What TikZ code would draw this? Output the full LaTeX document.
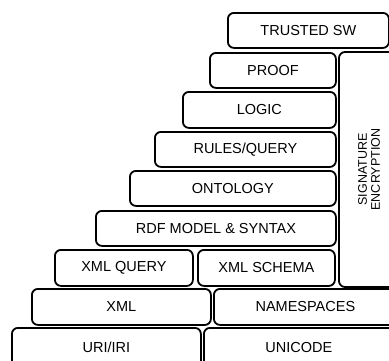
\documentclass[tikz,border=0pt]{standalone}
\usepackage{fontspec}
\setmainfont{Liberation Sans}
\usetikzlibrary{positioning}
\tikzset
{
    layer/.style = {draw=black, rounded corners=6pt, line width=1.8pt, anchor=north west, inner sep=0pt, minimum height=35pt, font=\fontsize{14.5}{16}\selectfont}
}

\begin{document}
\begin{tikzpicture}[x=1pt,y=-1pt]
\useasboundingbox (0,0) rectangle (389,360);
\clip (0,0) rectangle (389,360);
% top of the stack
\node [layer, minimum width=161pt] (trusted) at (227,12) {TRUSTED SW};
\node [layer, minimum width=126pt] (proof) at (209,52) {PROOF};
\node [layer, minimum width=153pt, minimum height=36pt] (logic) at (182,91) {LOGIC};
\node [layer, minimum width=181pt] (rules) at (154,131) {RULES/QUERY};
\node [layer, minimum width=206pt] (ontology) at (129,170) {ONTOLOGY};
\node [layer, minimum width=240pt] (rdf) at (95,210) {RDF MODEL \& SYNTAX};
% xml layers
\node [layer, minimum width=138pt, minimum height=36pt] (xmlquery) at (54,249) {XML QUERY};
\node [layer, minimum width=137pt, minimum height=36pt] (xmlschema) at (197,249) {XML SCHEMA};
\node [layer, minimum width=179pt, minimum height=36pt] (xml) at (31,288) {XML};
\node [layer, minimum width=183pt, minimum height=36pt] (namespaces) at (213,288) {NAMESPACES};
% bottom, cut off by the page
\node [layer, minimum width=189pt, minimum height=46pt, text height=10.5pt, text depth=8pt] (uri) at (11,327) {URI/IRI};
\node [layer, minimum width=190pt, minimum height=46pt, text height=10.5pt, text depth=8pt] (unicode) at (203,327) {UNICODE};
% side bar
\node [layer, anchor=center, rotate=90, minimum width=235pt, minimum height=60pt, align=center, font=\fontsize{12.5}{13}\selectfont] (signature) at (369,169.5) {SIGNATURE\\ENCRYPTION};
\end{tikzpicture}
\end{document}
